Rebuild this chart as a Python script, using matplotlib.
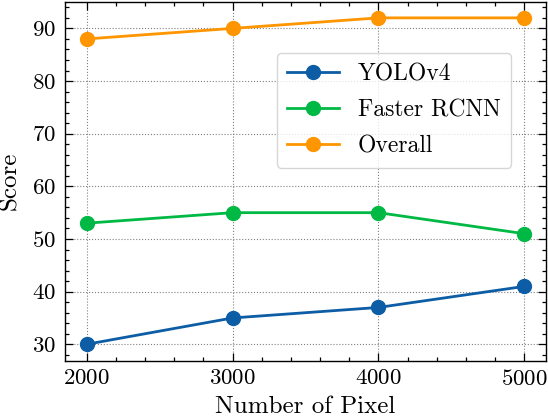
import matplotlib
matplotlib.use('Agg')
import matplotlib.pyplot as plt
from matplotlib.ticker import AutoMinorLocator

pixels = [2000, 3000, 4000, 5000]
yolo = [30, 35, 37, 41]
faster = [53, 55, 55, 51]
overall = [88, 90, 92, 92]

plt.rcParams['font.family'] = 'serif'
plt.rcParams['font.serif'] = ['cmr10', 'DejaVu Serif']
plt.rcParams['mathtext.fontset'] = 'cm'
plt.rcParams['axes.formatter.use_mathtext'] = True
plt.rcParams['font.size'] = 16.5

fig = plt.figure(figsize=(5.48, 4.18), dpi=100)
ax = fig.add_axes([0.118, 0.1373, 0.879, 0.859])

ax.plot(pixels, yolo, marker='o', color='#0C5DA5', lw=2, ms=10, label='YOLOv4')
ax.plot(pixels, faster, marker='o', color='#00B945', lw=2, ms=10, label='Faster RCNN')
ax.plot(pixels, overall, marker='o', color='#FF9500', lw=2, ms=10, label='Overall')

ax.set_xticks(pixels)
ax.xaxis.set_minor_locator(AutoMinorLocator(5))
ax.yaxis.set_minor_locator(AutoMinorLocator(5))
ax.tick_params(which='both', direction='in', top=True, right=True)
ax.tick_params(which='major', length=6, width=0.9, pad=6)
ax.tick_params(which='minor', length=3, width=0.9)
for s in ax.spines.values():
    s.set_linewidth(1.0)
ax.grid(True, which='major', linestyle=':', color='gray', lw=0.8)

ax.set_xlabel('Number of Pixel', fontsize=18, labelpad=5)
ax.set_ylabel('Score', fontsize=18, labelpad=8)

leg = ax.legend(loc='upper left', bbox_to_anchor=(0.44, 0.857), borderaxespad=0,
                fontsize=17, handlelength=2.2, borderpad=0.45, labelspacing=0.58)

fig.savefig('out.png', dpi=100)
